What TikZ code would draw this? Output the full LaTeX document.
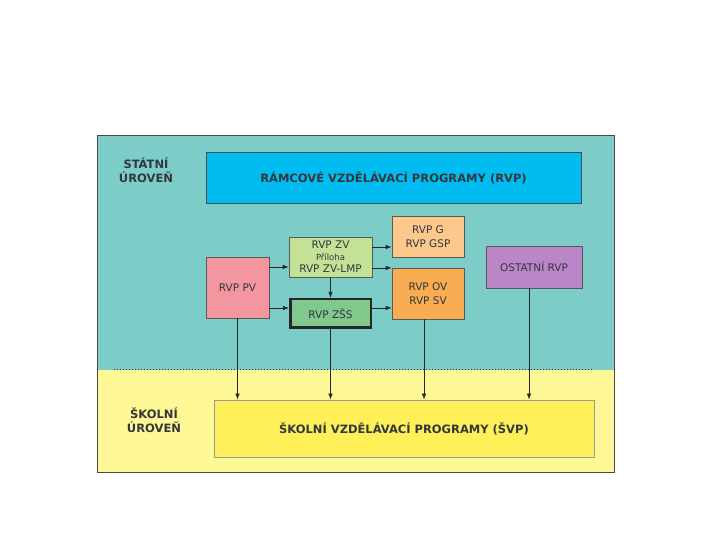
\documentclass[tikz,border=0pt]{standalone}
\usepackage{fontspec}
\setmainfont{DejaVu Sans}
\usetikzlibrary{arrows.meta,positioning}
\usepackage{xcolor}
\definecolor{stteal}{RGB}{124,205,200}
\definecolor{skyellow}{RGB}{255,248,150}
\definecolor{rvpcyan}{RGB}{0,188,240}
\definecolor{svpyellow}{RGB}{255,240,90}
\definecolor{gorange}{RGB}{252,200,140}
\definecolor{zvgreen}{RGB}{196,226,150}
\definecolor{pvpink}{RGB}{244,150,160}
\definecolor{zssgreen}{RGB}{128,200,140}
\definecolor{ovorange}{RGB}{250,172,82}
\definecolor{ostpurple}{RGB}{186,134,200}
\definecolor{txtgray}{RGB}{50,55,60}
\tikzset{
    prog/.style={
        draw=black!65,line width=0.6pt,fill=#1,
        align=center,text=txtgray,inner sep=0pt,
        font=\fontsize{10.5}{14}\selectfont
    },
    prog/.default=white,
    wide/.style={
        draw=black!70,line width=0.8pt,fill=#1,
        align=center,text=txtgray,
        font=\fontsize{11.5}{14}\selectfont\bfseries
    },
    level/.style={
        align=center,text=txtgray,
        font=\fontsize{11.5}{14}\selectfont\bfseries
    },
    arrow/.style={
        -{Latex[length=6pt,width=4.5pt]},line width=0.7pt,draw=black!85
    }
}

\begin{document}
\begin{tikzpicture}[x=1pt,y=1pt]
\useasboundingbox (0,0) rectangle (720,540);

% levels
\fill[stteal] (97,170) rectangle (614,405);
\fill[skyellow] (97,68) rectangle (614,170);
\draw[black!70,line width=0.6pt] (97,68) rectangle (614,405);
\draw[black!80,dotted,line width=1pt] (114,170) -- (593,170);

\node[level](stlabel) at (146,370){STÁTNÍ\\ÚROVEŇ};
\node[level](sklabel) at (154,120){ŠKOLNÍ\\ÚROVEŇ};

% programmes
\node[wide=rvpcyan,minimum width=375,minimum height=51]
(rvp) at (393.5,362.5){RÁMCOVÉ VZDĚLÁVACÍ PROGRAMY (RVP)};

\node[prog=gorange,minimum width=72,minimum height=41]
(g) at (428,303.5){RVP G\\RVP GSP};

\node[prog=zvgreen,minimum width=83,minimum height=40,
font=\fontsize{10.5}{12}\selectfont]
(zv) at (330.5,283){RVP ZV\\{\fontsize{8.5}{12}\selectfont Příloha}\\RVP ZV-LMP};

\node[prog=pvpink,minimum width=63,minimum height=61]
(pv) at (237.5,252.5){RVP PV};

\node[prog=zssgreen,draw=black!85,line width=2.5pt,
minimum width=80.5,minimum height=28.5]
(zss) at (330.5,226.5){RVP ZŠS};

\node[prog=ovorange,minimum width=72,minimum height=51]
(ov) at (428,246.5){RVP OV\\RVP SV};

\node[prog=ostpurple,minimum width=96,minimum height=42]
(ost) at (534,273){OSTATNÍ RVP};

\node[wide=svpyellow,draw=black!40,minimum width=380,minimum height=57]
(svp) at (404,111.5){ŠKOLNÍ VZDĚLÁVACÍ PROGRAMY (ŠVP)};

% links
\draw[arrow](pv.east |- 0,273)--(zv.west |- 0,273);
\draw[arrow](pv.east |- 0,232)--(zss.west |- 0,232);
\draw[arrow](zv.east |- 0,293)--(g.west |- 0,293);
\draw[arrow](zv.east |- 0,272)--(ov.west |- 0,272);
\draw[arrow](zss.east |- 0,232)--(ov.west |- 0,232);
\draw[arrow](zv.south)--(zss.north);

\draw[arrow](pv.south)--(pv.south |- svp.north);
\draw[arrow](zss.south)--(zss.south |- svp.north);
\draw[arrow]([xshift=-4]ov.south)--([xshift=-4]ov.south |- svp.north);
\draw[arrow]([xshift=-5]ost.south)--([xshift=-5]ost.south |- svp.north);

\end{tikzpicture}
\end{document}
